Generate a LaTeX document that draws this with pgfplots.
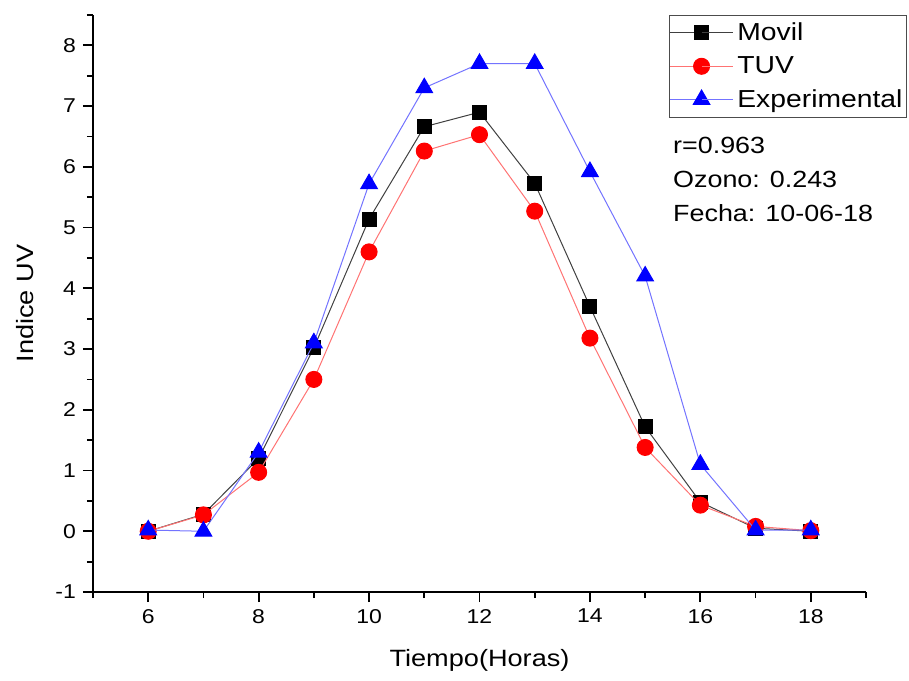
\documentclass[border=0pt]{standalone}
\usepackage{pgfplots}
\pgfplotsset{compat=1.18}
\usepackage{fontspec}
\setmainfont{Liberation Sans}[FakeStretch=1.15]
\begin{document}
\begin{tikzpicture}
\useasboundingbox (-46.5pt,-44pt) rectangle (408pt,296pt);
\begin{axis}[
  at={(0pt,0pt)}, anchor=south west,
  width=386.5pt, height=288.5pt, scale only axis,
  xmin=5, xmax=19, ymin=-1, ymax=8.5,
  clip mode=individual,
  axis lines=left, axis line style={-, line width=0.9pt},
  xtick={6,8,...,18}, minor xtick={5,7,...,19},
  ytick={-1,0,...,8}, minor ytick={-0.5,0.5,...,8.5},
  tick align=outside,
  major tick length=5pt, minor tick length=3pt,
  every tick/.style={line width=0.9pt, black},
  tick label style={font=\fontsize{10}{12}\selectfont},
  /pgf/number format/assume math mode=true,
  xlabel={Tiempo(Horas)}, ylabel={Indice UV},
  label style={font=\fontsize{11.8}{14}\selectfont},
  xlabel style={at={(axis description cs:0.5,0)}, anchor=center, yshift=-34pt},
  ylabel style={at={(axis description cs:0,0.5)}, anchor=center, yshift=34pt},
  legend style={at={(rel axis cs:1.053,1)}, anchor=north east,
    font=\fontsize{12.3}{15}\selectfont, draw=black!70, line width=0.5pt,
    inner xsep=0pt, inner ysep=1.5pt, row sep=2.5pt},
  legend cell align=left,
  legend image code/.code={\draw[#1] (0cm,0cm) -- (0.55cm,0cm); \draw[#1, mark repeat=2, mark phase=2] plot coordinates {(0cm,0cm) (0.55cm,0cm) (1.1cm,0cm)}; \draw[#1] (0.55cm,0cm) -- (1.1cm,0cm);},
]
\addplot[black!75, line width=0.5pt, mark=square*, mark size=3.5pt, mark options={black, solid}]
 coordinates {(6,0) (7,0.28) (8,1.2) (9,3.02) (10,5.14) (11,6.66) (12,6.9) (13,5.73) (14,3.7) (15,1.72) (16,0.48) (17,0.05) (18,0.0)};
\addlegendentry{Movil}
\addplot[red!55, line width=0.5pt, mark=*, mark size=4pt, mark options={red, draw=red}]
 coordinates {(6,0) (7,0.27) (8,0.97) (9,2.5) (10,4.6) (11,6.26) (12,6.53) (13,5.27) (14,3.18) (15,1.38) (16,0.43) (17,0.08) (18,0.01)};
\addlegendentry{TUV}
\addplot[blue!55, line width=0.5pt, mark=triangle*, mark size=4.8pt, mark options={blue, draw=blue}]
 coordinates {(6,0.02) (7,0) (8,1.3) (9,3.1) (10,5.72) (11,7.3) (12,7.7) (13,7.7) (14,5.92) (15,4.2) (16,1.1) (17,0.02) (18,0.02)};
\addlegendentry{Experimental}
\node[anchor=north west, align=left, font=\fontsize{11.7}{17}\selectfont, inner sep=0pt]
  at (rel axis cs:0.750,0.789) {r=0.963\\Ozono: 0.243\\Fecha: 10-06-18};
\end{axis}
\end{tikzpicture}
\end{document}
